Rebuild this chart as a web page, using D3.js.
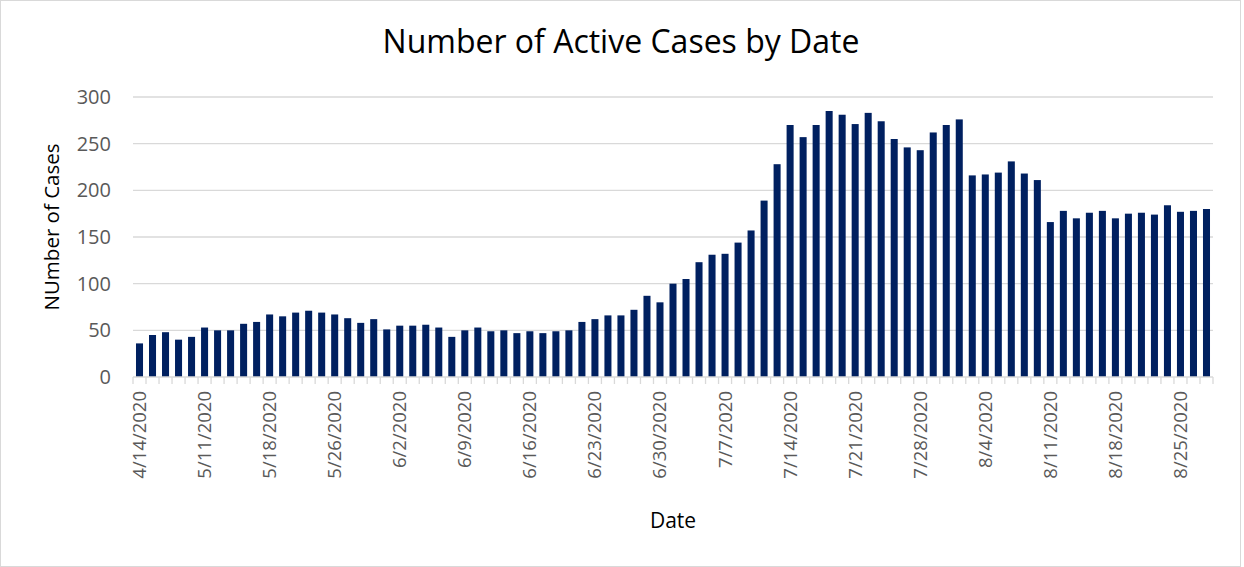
<!DOCTYPE html>
<html>
<head>
<meta charset="utf-8">
<script src="https://cdn.jsdelivr.net/npm/d3@7"></script>
<style>
    body { margin: 0; background: #fff; }
    text { font-family: "Open Sans", sans-serif; }
</style>
</head>
<body>
<div id="chart"></div>
<script>

// dates on the category axis (business days)
var dates = ["4/14/2020", "4/21/2020", "4/28/2020", "5/5/2020", "5/8/2020",
    "5/11/2020", "5/12/2020", "5/13/2020", "5/14/2020", "5/15/2020",
    "5/18/2020", "5/19/2020", "5/20/2020", "5/21/2020", "5/22/2020",
    "5/26/2020", "5/27/2020", "5/28/2020", "5/29/2020", "6/1/2020",
    "6/2/2020", "6/3/2020", "6/4/2020", "6/5/2020", "6/8/2020",
    "6/9/2020", "6/10/2020", "6/11/2020", "6/12/2020", "6/15/2020",
    "6/16/2020", "6/17/2020", "6/18/2020", "6/19/2020", "6/22/2020",
    "6/23/2020", "6/24/2020", "6/25/2020", "6/26/2020", "6/29/2020",
    "6/30/2020", "7/1/2020", "7/2/2020", "7/3/2020", "7/6/2020",
    "7/7/2020", "7/8/2020", "7/9/2020", "7/10/2020", "7/13/2020",
    "7/14/2020", "7/15/2020", "7/16/2020", "7/17/2020", "7/20/2020",
    "7/21/2020", "7/22/2020", "7/23/2020", "7/24/2020", "7/27/2020",
    "7/28/2020", "7/29/2020", "7/30/2020", "7/31/2020", "8/3/2020",
    "8/4/2020", "8/5/2020", "8/6/2020", "8/7/2020", "8/10/2020",
    "8/11/2020", "8/12/2020", "8/13/2020", "8/14/2020", "8/17/2020",
    "8/18/2020", "8/19/2020", "8/20/2020", "8/21/2020", "8/24/2020",
    "8/25/2020", "8/26/2020", "8/27/2020"];

// active cases per date
var activeCases = [36, 45, 48, 40, 43, 53, 50, 50, 57, 59,
    67, 65, 69, 71, 69, 67, 63, 58, 62, 51,
    55, 55, 56, 53, 43, 50, 53, 49, 50, 47,
    49, 47, 49, 50, 59, 62, 66, 66, 72, 87,
    80, 100, 105, 123, 131, 132, 144, 157, 189, 228,
    270, 257, 270, 285, 281, 271, 283, 274, 255, 246,
    243, 262, 270, 276, 216, 217, 219, 231, 218, 211,
    166, 178, 170, 176, 178, 170, 175, 176, 174, 184,
    177, 178, 180];

var yTicks = [0, 50, 100, 150, 200, 250, 300];

var W = 1244, H = 567;
var margin = { top: 97, right: 31, bottom: 190, left: 133 };
var width = W - margin.left - margin.right,
    height = H - margin.top - margin.bottom;

var svg = d3.select("#chart").append("svg")
    .attr("width", W)
    .attr("height", H);

// outer frame
svg.append("rect")
    .attr("x", 0.5).attr("y", 0.5)
    .attr("width", W - 4).attr("height", H - 1)
    .attr("fill", "#fff")
    .attr("stroke", "#d9d9d9");

var g = svg.append("g")
    .attr("transform", "translate(" + margin.left + "," + margin.top + ")");

var x = d3.scaleBand()
    .domain(dates)
    .range([0, width])
    .paddingInner(0.46)
    .paddingOuter(0.23);

var y = d3.scaleLinear()
    .domain([0, 300])
    .range([height, 0]);

// gridlines
g.selectAll("line.grid")
    .data(yTicks.slice(1))
    .enter().append("line")
    .attr("class", "grid")
    .attr("x1", 0).attr("x2", width)
    .attr("y1", function(d){ return y(d); })
    .attr("y2", function(d){ return y(d); })
    .attr("stroke", "#d9d9d9")
    .attr("stroke-width", 1.3);

// y axis labels
var yAxis = g.append("g")
    .call(d3.axisLeft(y).tickValues(yTicks).tickSize(0).tickPadding(22));
yAxis.select(".domain").remove();
yAxis.selectAll("text")
    .attr("fill", "#595959")
    .style("font-size", "20px");

// bars
g.selectAll("rect.bar")
    .data(activeCases)
    .enter().append("rect")
    .attr("class", "bar")
    .attr("x", function(d, i){ return x(dates[i]); })
    .attr("y", function(d){ return y(d); })
    .attr("width", x.bandwidth())
    .attr("height", function(d){ return height - y(d); })
    .attr("fill", "#002060");

// x axis line + tick marks between categories
var step = x.step();
var bounds = dates.map(function(d){ return x(d) - (step - x.bandwidth()) / 2; });
bounds.push(width);

g.append("line")
    .attr("x1", 0).attr("x2", width)
    .attr("y1", height).attr("y2", height)
    .attr("stroke", "#d9d9d9")
    .attr("stroke-width", 1.3);

g.selectAll("line.tick-mark")
    .data(bounds)
    .enter().append("line")
    .attr("class", "tick-mark")
    .attr("x1", function(d){ return d; })
    .attr("x2", function(d){ return d; })
    .attr("y1", height).attr("y2", height + 7)
    .attr("stroke", "#d9d9d9")
    .attr("stroke-width", 1.3);

// x labels every 5th date, rotated
var xAxis = g.append("g")
    .attr("transform", "translate(0," + height + ")")
    .call(d3.axisBottom(x)
        .tickValues(dates.filter(function(d, i){ return i % 5 === 0; }))
        .tickSize(0));
xAxis.select(".domain").remove();
xAxis.selectAll("text")
    .attr("fill", "#595959")
    .style("font-size", "18.5px")
    .attr("text-anchor", "end")
    .attr("transform", "rotate(-90)")
    .attr("x", -14)
    .attr("y", 0)
    .attr("dy", "0.35em");

// titles
svg.append("text")
    .attr("x", 621)
    .attr("y", 53)
    .attr("text-anchor", "middle")
    .style("font-size", "32px")
    .attr("fill", "#000")
    .text("Number of Active Cases by Date");

svg.append("text")
    .attr("x", 673)
    .attr("y", 528)
    .attr("text-anchor", "middle")
    .style("font-size", "21px")
    .attr("fill", "#000")
    .text("Date");

svg.append("text")
    .attr("transform", "translate(59," + (margin.top + height / 2 - 10) + ") rotate(-90)")
    .attr("text-anchor", "middle")
    .style("font-size", "20.5px")
    .attr("fill", "#000")
    .text("NUmber of Cases");

</script>
</body>
</html>
